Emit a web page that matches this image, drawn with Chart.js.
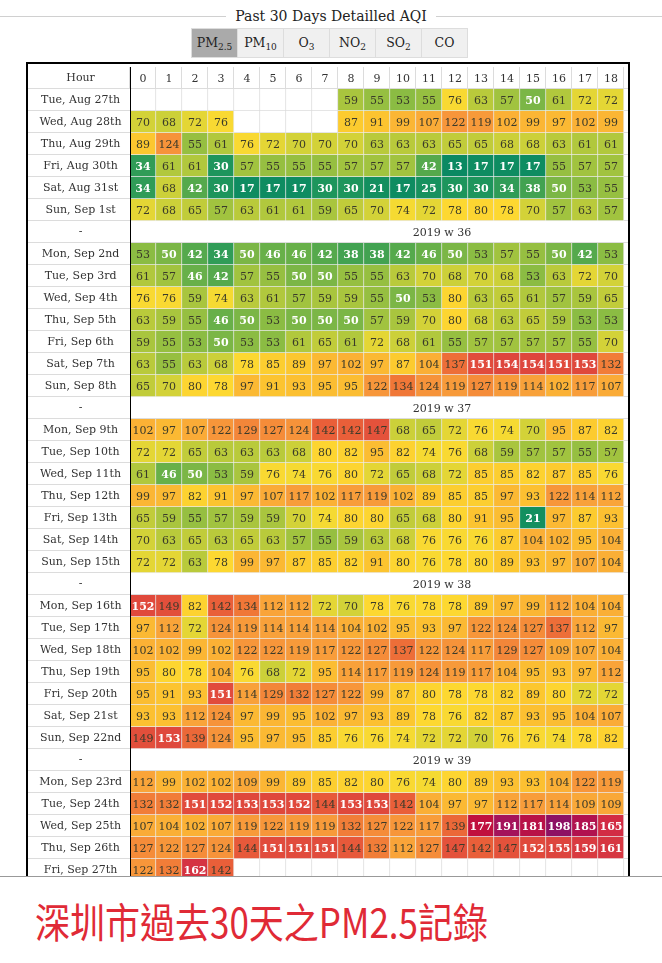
<!DOCTYPE html>
<html>
<head>
<meta charset="utf-8">
<script src="https://cdn.jsdelivr.net/npm/chart.js@4.4.0/dist/chart.umd.min.js"></script>
<style>
  body { margin: 0; background: #fff; width: 662px; height: 963px; position: relative; overflow: hidden; font-family: "DejaVu Serif", serif; color: #222; }
  .title { position: absolute; left: 0; top: 6px; width: 662px; height: 20px; display: flex; align-items: center; font-size: 14px; }
  .title:before, .title:after { content: ""; flex: 1; border-top: 1px solid #d0d0d0; }
  .title span { padding: 0 9px; }
  .tabs { position: absolute; left: 192px; top: 28px; display: flex; }
  .tabs div { width: 45px; height: 28px; line-height: 28px; text-align: center; background: #f0f0f0; border: 1px solid #ddd; margin-left: -1px; font-size: 12.5px; }
  .tabs div.on { background: #aaa; }
  .tabs sub { font-size: 9px; vertical-align: -3px; line-height: 0; }
  #frame { position: absolute; left: 26px; top: 62px; width: 600px; height: 812px; border: 2px solid #000; border-bottom: none; overflow: hidden; }
  #frame canvas { position: absolute; left: 0; top: 3px; }
  #edge { position: absolute; left: 0; top: 876px; width: 662px; border-top: 1px solid #999; }
  #cap { position: absolute; left: 35px; top: 899px; font-family: "Noto Sans CJK TC", sans-serif; font-size: 35px; color: #e02a36; line-height: 1; white-space: nowrap; transform: scaleY(1.18); transform-origin: 0 0; }
</style>
</head>
<body>
<div class="title"><span>Past 30 Days Detailled AQI</span></div>
<div class="tabs">
  <div class="on">PM<sub>2.5</sub></div><div>PM<sub>10</sub></div><div>O<sub>3</sub></div><div>NO<sub>2</sub></div><div>SO<sub>2</sub></div><div>CO</div>
</div>
<div id="frame"><canvas id="grid" width="620" height="814"></canvas></div>
<div id="edge"></div>
<div id="cap">深圳市過去30天之PM2.5記錄</div>

<script>
// hours shown in the table (hour 19+ is cut off in the screenshot)
const hours = [0, 1, 2, 3, 4, 5, 6, 7, 8, 9, 10, 11, 12, 13, 14, 15, 16, 17, 18];

// week 35 (partial)
const days35 = ['Tue, Aug 27th', 'Wed, Aug 28th', 'Thu, Aug 29th', 'Fri, Aug 30th', 'Sat, Aug 31st', 'Sun, Sep 1st'];
const aqi35 = [
    [null, null, null, null, null, null, null, null, 59, 55, 53, 55, 76, 63, 57, 50, 61, 72, 72],
    [70, 68, 72, 76, null, null, null, null, 87, 91, 99, 107, 122, 119, 102, 99, 97, 102, 99],
    [89, 124, 55, 61, 76, 72, 70, 70, 70, 63, 63, 63, 65, 65, 68, 68, 63, 61, 61],
    [34, 61, 61, 30, 57, 55, 55, 55, 57, 57, 57, 42, 13, 17, 17, 17, 55, 57, 57],
    [34, 68, 42, 30, 17, 17, 17, 30, 30, 21, 17, 25, 30, 30, 34, 38, 50, 53, 55],
    [72, 68, 65, 57, 63, 61, 61, 59, 65, 70, 74, 72, 78, 80, 78, 70, 57, 63, 57]
];

const days36 = ['Mon, Sep 2nd', 'Tue, Sep 3rd', 'Wed, Sep 4th', 'Thu, Sep 5th', 'Fri, Sep 6th', 'Sat, Sep 7th', 'Sun, Sep 8th'];
const aqi36 = [
    [53, 50, 42, 34, 50, 46, 46, 42, 38, 38, 42, 46, 50, 53, 57, 55, 50, 42, 53],
    [61, 57, 46, 42, 57, 55, 50, 50, 55, 55, 63, 70, 68, 70, 68, 53, 63, 72, 70],
    [76, 76, 59, 74, 63, 61, 57, 59, 59, 55, 50, 53, 80, 63, 65, 61, 57, 59, 65],
    [63, 59, 55, 46, 50, 53, 50, 50, 50, 57, 59, 70, 80, 68, 63, 65, 59, 53, 53],
    [59, 55, 53, 50, 53, 53, 61, 65, 61, 72, 68, 61, 55, 57, 57, 57, 57, 55, 70],
    [63, 55, 63, 68, 78, 85, 89, 97, 102, 97, 87, 104, 137, 151, 154, 154, 151, 153, 132],
    [65, 70, 80, 78, 97, 91, 93, 95, 95, 122, 134, 124, 119, 127, 119, 114, 102, 117, 107]
];

const days37 = ['Mon, Sep 9th', 'Tue, Sep 10th', 'Wed, Sep 11th', 'Thu, Sep 12th', 'Fri, Sep 13th', 'Sat, Sep 14th', 'Sun, Sep 15th'];
const aqi37 = [
    [102, 97, 107, 122, 129, 127, 124, 142, 142, 147, 68, 65, 72, 76, 74, 70, 95, 87, 82],
    [72, 72, 65, 63, 63, 63, 68, 80, 82, 95, 82, 74, 76, 68, 59, 57, 57, 55, 57],
    [61, 46, 50, 53, 59, 76, 74, 76, 80, 72, 65, 68, 72, 85, 85, 82, 87, 85, 76],
    [99, 97, 82, 91, 97, 107, 117, 102, 117, 119, 102, 89, 85, 85, 97, 93, 122, 114, 112],
    [65, 59, 55, 57, 59, 59, 70, 74, 80, 80, 65, 68, 80, 91, 95, 21, 97, 87, 93],
    [70, 63, 65, 63, 65, 63, 57, 55, 59, 63, 68, 76, 76, 76, 87, 104, 102, 95, 104],
    [72, 72, 63, 78, 99, 97, 87, 85, 82, 91, 80, 76, 78, 80, 89, 93, 97, 107, 104]
];

const days38 = ['Mon, Sep 16th', 'Tue, Sep 17th', 'Wed, Sep 18th', 'Thu, Sep 19th', 'Fri, Sep 20th', 'Sat, Sep 21st', 'Sun, Sep 22nd'];
const aqi38 = [
    [152, 149, 82, 142, 134, 112, 112, 72, 70, 78, 76, 78, 78, 89, 97, 99, 112, 104, 104],
    [97, 112, 72, 124, 119, 114, 114, 114, 104, 102, 95, 93, 97, 122, 124, 127, 137, 112, 97],
    [102, 102, 99, 102, 122, 122, 119, 117, 122, 127, 137, 122, 124, 117, 129, 127, 109, 107, 104],
    [95, 80, 78, 104, 76, 68, 72, 95, 114, 117, 119, 124, 119, 117, 104, 95, 93, 97, 112],
    [95, 91, 93, 151, 114, 129, 132, 127, 122, 99, 87, 80, 78, 78, 82, 89, 80, 72, 72],
    [93, 93, 112, 124, 97, 99, 95, 102, 97, 93, 89, 78, 76, 82, 87, 93, 95, 104, 107],
    [149, 153, 139, 124, 95, 97, 95, 85, 76, 76, 74, 72, 72, 70, 76, 76, 74, 78, 82]
];

const days39 = ['Mon, Sep 23rd', 'Tue, Sep 24th', 'Wed, Sep 25th', 'Thu, Sep 26th', 'Fri, Sep 27th'];
const aqi39 = [
    [112, 99, 102, 102, 109, 99, 89, 85, 82, 80, 76, 74, 80, 89, 93, 93, 104, 122, 119],
    [132, 132, 151, 152, 153, 153, 152, 144, 153, 153, 142, 104, 97, 97, 112, 117, 114, 109, 109],
    [107, 104, 102, 107, 119, 122, 119, 119, 132, 127, 122, 117, 139, 177, 191, 181, 198, 185, 165],
    [127, 122, 127, 124, 144, 151, 151, 151, 144, 132, 112, 127, 147, 142, 147, 152, 155, 159, 161],
    [122, 132, 162, 142, null, null, null, null, null, null, null, null, null, null, null, null, null, null, null]
];

const weekLabels = ['2019 w 36', '2019 w 37', '2019 w 38', '2019 w 39'];

// colour ramp used by the page
const colorStops = [
    [13, '#0a8962'], [30, '#1d955c'], [42, '#55a94c'], [50, '#7bb646'], [57, '#a1c33f'],
    [65, '#c1cc3a'], [70, '#d3d238'], [74, '#f5da32'], [78, '#fdd831'], [88, '#fcc92f'],
    [100, '#fbb434'], [115, '#f8a03a'], [125, '#f6923a'], [135, '#ef7437'], [145, '#e6563a'],
    [155, '#dd443d'], [165, '#d22c44'], [177, '#c0103e'], [190, '#a7135a'], [198, '#8d1064']
];

function hexRgb(h) {
    return [parseInt(h.slice(1, 3), 16), parseInt(h.slice(3, 5), 16), parseInt(h.slice(5, 7), 16)];
}

function aqiColor(v) {
    if (v == null) return '#ffffff';
    if (v <= colorStops[0][0]) return colorStops[0][1];
    for (let i = 1; i < colorStops.length; i++) {
        const [v1, c1] = colorStops[i];
        if (v <= v1) {
            const [v0, c0] = colorStops[i - 1];
            const t = (v - v0) / (v1 - v0);
            const a = hexRgb(c0), b = hexRgb(c1);
            return `rgb(${a.map((x, k) => Math.round(x + (b[k] - x) * t)).join(',')})`;
        }
    }
    return colorStops[colorStops.length - 1][1];
}

// build the table rows: header, then weeks split by separator rows
const rows = [{ label: 'Hour', kind: 'head' }];
const weeks = [[days35, aqi35], [days36, aqi36], [days37, aqi37], [days38, aqi38], [days39, aqi39]];
weeks.forEach(([days, vals], w) => {
    if (w > 0) rows.push({ label: '-', kind: 'sep', text: weekLabels[w - 1] });
    days.forEach((d, i) => rows.push({ label: d, kind: 'day', values: vals[i] }));
});

const LABEL_W = 102;
const CELL_W = 26;
const canvas = document.getElementById('grid');
const FONT = '"DejaVu Serif", serif';

const tablePlugin = {
    id: 'table',
    beforeDatasetsDraw(chart) {
        const { ctx, scales: { x, y } } = chart;
        const rh = y.getPixelForValue(1) - y.getPixelForValue(0);
        ctx.save();
        ctx.strokeStyle = '#dcdcdc';
        ctx.lineWidth = 1;
        for (let i = 0; i <= rows.length; i++) {
            const py = Math.round(y.getPixelForValue(i) - rh / 2) - 0.5;
            ctx.beginPath();
            ctx.moveTo(0, py);
            ctx.lineTo(chart.width, py);
            ctx.stroke();
        }
        // header cell dividers
        const top = y.getPixelForValue(0) - rh / 2, bot = top + rh;
        hours.concat([hours.length]).forEach(h => {
            const px = Math.round(x.getPixelForValue(h)) - 0.5;
            ctx.beginPath();
            ctx.moveTo(px, top);
            ctx.lineTo(px, bot);
            ctx.stroke();
        });
        ctx.restore();
    },
    afterDatasetsDraw(chart) {
        const { ctx, scales: { x, y }, chartArea } = chart;
        ctx.save();
        ctx.textAlign = 'center';
        ctx.textBaseline = 'middle';
        // hour numbers in header row
        ctx.font = `11px ${FONT}`;
        ctx.fillStyle = '#333';
        hours.forEach(h => ctx.fillText(String(h), x.getPixelForValue(h + 0.5), y.getPixelForValue(0) + 1));
        // week separators
        rows.forEach((r, i) => {
            if (r.kind === 'sep') ctx.fillText(r.text, x.getPixelForValue(12), y.getPixelForValue(i) + 1);
        });
        // cell values
        chart.data.datasets.forEach((ds, di) => {
            const meta = chart.getDatasetMeta(di);
            meta.data.forEach((el, ri) => {
                const r = rows[ri];
                if (r.kind !== 'day') return;
                const v = r.values[hours[di]];
                if (v == null) return;
                const p = el.getProps(['x', 'y', 'base']);
                const light = v <= 50 || v > 150;
                ctx.font = `${light ? 'bold ' : ''}11px ${FONT}`;
                ctx.fillStyle = light ? '#ffffff' : '#3a3a2a';
                ctx.fillText(String(v), (p.x + p.base) / 2, p.y + 1);
            });
        });
        // black divider between label column and hours
        ctx.fillStyle = '#000';
        ctx.fillRect(Math.round(chartArea.left), 0, 1, chart.height);
        ctx.restore();
    }
};

new Chart(canvas, {
    type: 'bar',
    data: {
        labels: rows.map(r => r.label),
        datasets: hours.map(h => ({
            data: rows.map(r => (r.kind === 'day' ? [h, h + 1] : null)),
            backgroundColor: c => {
                const r = rows[c.dataIndex];
                return r && r.kind === 'day' ? aqiColor(r.values[h]) : 'rgba(0,0,0,0)';
            },
            borderColor: c => {
                const r = rows[c.dataIndex];
                return r && r.kind === 'day' && r.values[h] == null ? '#dcdcdc' : '#ebebeb';
            },
            borderWidth: { top: 0, left: 0, right: 1, bottom: 1 },
            borderSkipped: false,
            grouped: false,
            barPercentage: 1,
            categoryPercentage: 1
        }))
    },
    options: {
        indexAxis: 'y',
        responsive: false,
        devicePixelRatio: 1,
        animation: false,
        layout: { padding: 0 },
        plugins: { legend: { display: false }, tooltip: { enabled: false } },
        scales: {
            x: {
                type: 'linear',
                min: 0,
                max: (canvas.width - LABEL_W) / CELL_W,
                display: false
            },
            y: {
                grid: { display: false, drawTicks: false },
                border: { display: false },
                afterFit: s => {
                    s.width = LABEL_W;
                    s.paddingTop = 0;
                    s.paddingBottom = 0;
                },
                ticks: {
                    crossAlign: 'center',
                    padding: 8,
                    color: '#333',
                    font: { family: FONT, size: 11 },
                    autoSkip: false
                }
            }
        }
    },
    plugins: [tablePlugin]
});
</script>
</body>
</html>
